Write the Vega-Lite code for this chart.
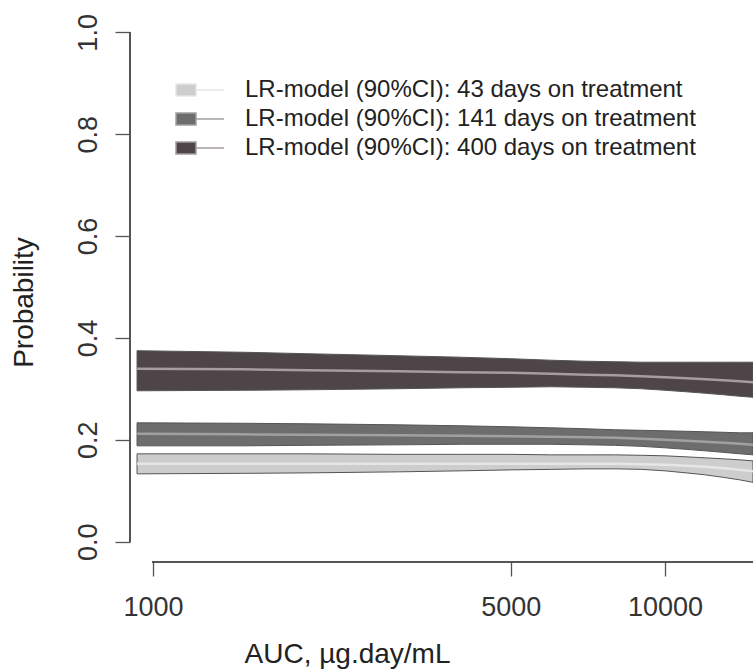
{
 "$schema": "https://vega.github.io/schema/vega-lite/v6.json",
 "width": 623,
 "height": 550,
 "autosize": {"type": "none"},
 "padding": {"left": 130, "top": 12, "right": 0, "bottom": 108},
 "background": "white",
 "config": {"view": {"stroke": null}, "font": "Liberation Sans"},
 "data": {"values": [
  {"s":"43","auc":931,"lo":0.1331,"mid":0.1527,"hi":0.1724},
  {"s":"43","auc":1500,"lo":0.1341,"mid":0.1527,"hi":0.1724},
  {"s":"43","auc":2000,"lo":0.1350,"mid":0.1527,"hi":0.1724},
  {"s":"43","auc":3000,"lo":0.1370,"mid":0.1527,"hi":0.1714},
  {"s":"43","auc":4000,"lo":0.1390,"mid":0.1527,"hi":0.1714},
  {"s":"43","auc":5000,"lo":0.1409,"mid":0.1527,"hi":0.1714},
  {"s":"43","auc":6000,"lo":0.1419,"mid":0.1527,"hi":0.1704},
  {"s":"43","auc":7000,"lo":0.1429,"mid":0.1527,"hi":0.1704},
  {"s":"43","auc":8000,"lo":0.1429,"mid":0.1527,"hi":0.1704},
  {"s":"43","auc":9000,"lo":0.1419,"mid":0.1518,"hi":0.1695},
  {"s":"43","auc":10000,"lo":0.1390,"mid":0.1508,"hi":0.1685},
  {"s":"43","auc":11000,"lo":0.1350,"mid":0.1488,"hi":0.1665},
  {"s":"43","auc":12000,"lo":0.1311,"mid":0.1468,"hi":0.1645},
  {"s":"43","auc":13000,"lo":0.1262,"mid":0.1439,"hi":0.1626},
  {"s":"43","auc":14000,"lo":0.1213,"mid":0.1409,"hi":0.1606},
  {"s":"43","auc":14856,"lo":0.1164,"mid":0.1380,"hi":0.1586},
  {"s":"141","auc":931,"lo":0.1881,"mid":0.2117,"hi":0.2333},
  {"s":"141","auc":1500,"lo":0.1881,"mid":0.2107,"hi":0.2324},
  {"s":"141","auc":2000,"lo":0.1891,"mid":0.2098,"hi":0.2314},
  {"s":"141","auc":3000,"lo":0.1901,"mid":0.2088,"hi":0.2294},
  {"s":"141","auc":4000,"lo":0.1911,"mid":0.2078,"hi":0.2275},
  {"s":"141","auc":5000,"lo":0.1911,"mid":0.2068,"hi":0.2255},
  {"s":"141","auc":6000,"lo":0.1911,"mid":0.2058,"hi":0.2235},
  {"s":"141","auc":7000,"lo":0.1901,"mid":0.2048,"hi":0.2216},
  {"s":"141","auc":8000,"lo":0.1891,"mid":0.2039,"hi":0.2196},
  {"s":"141","auc":9000,"lo":0.1871,"mid":0.2019,"hi":0.2186},
  {"s":"141","auc":10000,"lo":0.1842,"mid":0.1999,"hi":0.2176},
  {"s":"141","auc":11000,"lo":0.1812,"mid":0.1980,"hi":0.2167},
  {"s":"141","auc":12000,"lo":0.1783,"mid":0.1960,"hi":0.2157},
  {"s":"141","auc":13000,"lo":0.1753,"mid":0.1940,"hi":0.2147},
  {"s":"141","auc":14000,"lo":0.1724,"mid":0.1921,"hi":0.2137},
  {"s":"141","auc":14856,"lo":0.1704,"mid":0.1901,"hi":0.2137},
  {"s":"400","auc":931,"lo":0.2962,"mid":0.3395,"hi":0.3749},
  {"s":"400","auc":1500,"lo":0.2972,"mid":0.3385,"hi":0.3719},
  {"s":"400","auc":2000,"lo":0.2982,"mid":0.3365,"hi":0.3690},
  {"s":"400","auc":3000,"lo":0.3002,"mid":0.3346,"hi":0.3651},
  {"s":"400","auc":4000,"lo":0.3021,"mid":0.3326,"hi":0.3621},
  {"s":"400","auc":5000,"lo":0.3031,"mid":0.3316,"hi":0.3592},
  {"s":"400","auc":6000,"lo":0.3041,"mid":0.3297,"hi":0.3562},
  {"s":"400","auc":7000,"lo":0.3031,"mid":0.3277,"hi":0.3542},
  {"s":"400","auc":8000,"lo":0.3021,"mid":0.3267,"hi":0.3533},
  {"s":"400","auc":9000,"lo":0.3002,"mid":0.3248,"hi":0.3523},
  {"s":"400","auc":10000,"lo":0.2972,"mid":0.3228,"hi":0.3523},
  {"s":"400","auc":11000,"lo":0.2943,"mid":0.3208,"hi":0.3523},
  {"s":"400","auc":12000,"lo":0.2913,"mid":0.3189,"hi":0.3523},
  {"s":"400","auc":13000,"lo":0.2884,"mid":0.3169,"hi":0.3523},
  {"s":"400","auc":14000,"lo":0.2854,"mid":0.3149,"hi":0.3523},
  {"s":"400","auc":14856,"lo":0.2835,"mid":0.3130,"hi":0.3523}
 ]},
 "layer": [
  {
   "mark": {"type": "area", "stroke": "#555555", "strokeWidth": 1, "opacity": 1},
   "encoding": {
    "x": {"field": "auc", "type": "quantitative",
      "scale": {"type": "log", "domain": [902, 14856], "nice": false},
      "axis": {"values": [1000, 5000, 10000], "format": "d", "domain": false, "grid": false,
        "tickSize": 14, "tickColor": "#555555", "tickWidth": 1.3,
        "labelFontSize": 27, "labelColor": "#333333", "labelPadding": 39, "labelBaseline": "alphabetic",
        "labelFlush": false, "labelOverlap": false,
        "title": "AUC, µg.day/mL", "titleFontSize": 28, "titleFontWeight": "normal", "titleColor": "#222222",
        "titleX": 217, "titleY": 100, "titleAlign": "center", "titleBaseline": "alphabetic"}},
    "y": {"field": "lo", "type": "quantitative", "stack": null,
      "scale": {"domain": [-0.04, 1.04], "nice": false, "zero": false},
      "axis": {"values": [0, 0.2, 0.4, 0.6, 0.8, 1], "format": ".1f", "domain": false, "grid": false,
        "tickSize": 15, "tickColor": "#555555", "tickWidth": 1.3,
        "labelAngle": 270, "labelAlign": "center", "labelBaseline": "alphabetic", "labelPadding": 19,
        "labelFontSize": 27, "labelColor": "#333333",
        "title": "Probability", "titleFontSize": 28, "titleFontWeight": "normal", "titleColor": "#222222",
        "titleX": -98, "titleY": 290, "titleAngle": 270, "titleAlign": "center", "titleBaseline": "alphabetic"}},
    "y2": {"field": "hi"},
    "color": {"field": "s", "type": "nominal",
      "scale": {"domain": ["43", "141", "400"], "range": ["#cdcdcd", "#6d6d6d", "#4e4548"]},
      "legend": {"orient": "none", "legendX": 44, "legendY": 66, "title": null, "padding": 0,
        "symbolType": "M-1.667,-1H1.667V1H-1.667Z M1.667,0H6.333", "symbolSize": 144,
        "symbolStrokeColor": "#7a7a7a", "symbolStrokeWidth": 1.5,
        "labelExpr": "'LR-model (90%CI): ' + datum.label + ' days on treatment'",
        "labelFontSize": 24, "labelColor": "#222222", "labelOffset": 47, "labelLimit": 700, "rowPadding": 5}}
   }
  },
  {
   "mark": {"type": "line", "strokeWidth": 2.5},
   "encoding": {
    "x": {"field": "auc", "type": "quantitative"},
    "y": {"field": "mid", "type": "quantitative"},
    "stroke": {"field": "s", "type": "nominal",
      "scale": {"domain": ["43", "141", "400"], "range": ["#e6e6e6", "#a0a0a0", "#a59da0"]},
      "legend": null}
   }
  },
  {
   "mark": {"type": "rule", "color": "#555555", "strokeWidth": 1.3},
   "encoding": {"x": {"datum": 902}, "y": {"datum": 0}, "y2": {"datum": 1}}
  },
  {
   "mark": {"type": "rule", "color": "#555555", "strokeWidth": 1.3},
   "encoding": {"x": {"datum": 1000}, "x2": {"datum": 14856}, "y": {"datum": -0.04}}
  }
 ]
}
